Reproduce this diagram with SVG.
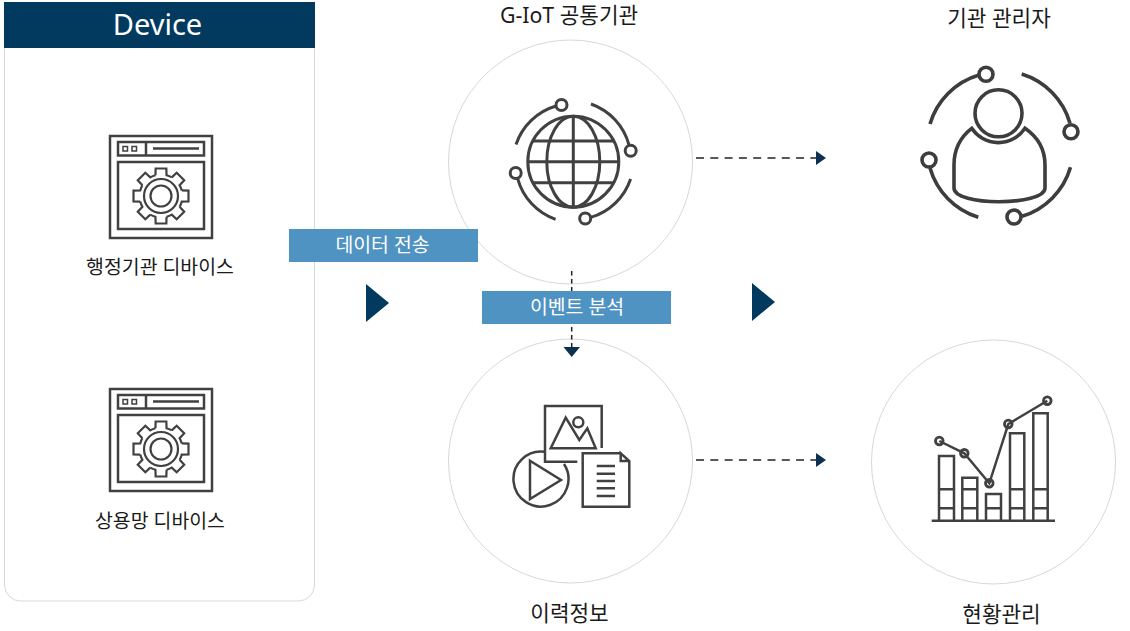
<svg xmlns="http://www.w3.org/2000/svg" xmlns:xlink="http://www.w3.org/1999/xlink" width="1130" height="631" viewBox="0 0 1130 631">
<style>
text{font-family:"Noto Sans","Noto Sans CJK KR",sans-serif;fill:#1a1a1a;text-anchor:middle}
.t{font-size:19.400px}
.l{font-size:21.300px}
.w{font-size:19.400px;fill:#fff}
.ring{fill:#fff;stroke:#d8d8d8;stroke-width:1}
.i{fill:none;stroke:#424040;stroke-width:2.500}
.g{fill:none;stroke:#424040;stroke-width:3}
.p{fill:none;stroke:#3e3c3c;stroke-width:3.600}
.d{fill:none;stroke:#222;stroke-width:1.500;stroke-dasharray:8 6.300}
.v{fill:none;stroke:#222;stroke-width:1.500;stroke-dasharray:4.500 3.500}
.h{fill:#0e3050}
.big{fill:#023a5f}
.lab{fill:#4f93c3}
</style>
<defs>
<path id="seg" d="M-5.560-20.770L-5.340-27.490H5.340L5.560-20.770A21.500 21.500 0 0 1 10.750-18.620"/>
<g id="win">
<rect x="110" y="136" width="102" height="102" class="i"/>
<rect x="118" y="142" width="86" height="13.500" class="i"/>
<path d="M146 142V155.500M153 148.500H199" class="i"/>
<path d="M123 146.500h4.500v4.500h-4.500zM132 146.500h4.500v4.500h-4.500z" class="i" style="stroke-width:1.500"/>
<rect x="118" y="162" width="86" height="67" class="i"/>
<g transform="translate(161 196)" class="i" style="stroke-width:2.200">
<use xlink:href="#seg"/><use xlink:href="#seg" transform="rotate(45)"/><use xlink:href="#seg" transform="rotate(90)"/><use xlink:href="#seg" transform="rotate(135)"/><use xlink:href="#seg" transform="rotate(180)"/><use xlink:href="#seg" transform="rotate(225)"/><use xlink:href="#seg" transform="rotate(270)"/><use xlink:href="#seg" transform="rotate(315)"/>
<circle r="17"/><circle r="10.500"/>
</g>
</g>
</defs>

<g id="device-panel">
<rect x="4.500" y="20" width="310" height="581" rx="16" fill="#fff" stroke="#d8d8d8"/>
<rect x="4" y="2" width="311" height="46" class="big"/>
<text x="157.500" y="35" style="font-size:29px;fill:#fff">Device</text>
</g>

<g id="node-gov">
<use xlink:href="#win"/>
<text x="160" y="274" class="t">행정기관 디바이스</text>
</g>
<g id="node-com">
<use xlink:href="#win" y="253"/>
<text x="160" y="528" class="t">상용망 디바이스</text>
</g>

<g id="node-giot">
<circle cx="570.500" cy="162" r="122" class="ring"/>
<text x="569" y="23" class="l">G-IoT 공통기관</text>
<g class="g">
<circle cx="573.300" cy="161.700" r="45.500"/>
<ellipse cx="573.300" cy="161.700" rx="26.500" ry="45.500"/>
<path d="M573.300 116.200V207.200M533.300 141H613.300M527.800 161.700H618.800M533.300 182.700H613.300"/>
<path d="M516 144.500A60 60 0 0 1 556 106M591 104A60 60 0 0 1 629 145M630.600 178.900A60 60 0 0 1 590.600 217.400M555.600 219.400A60 60 0 0 1 517.600 178.400"/>
<circle cx="561.500" cy="105" r="5.500"/><circle cx="630.700" cy="150.700" r="5.500"/><circle cx="515.700" cy="173" r="5.500"/><circle cx="585.200" cy="218.500" r="5.500"/>
</g>
</g>

<g id="node-admin">
<text x="999" y="26" class="l">기관 관리자</text>
<g class="p">
<circle cx="998.500" cy="113.300" r="23.500"/>
<path d="M971.700 128.300A32 32 0 0 0 1025 128.300Q1045 142 1045 165V188C1045 197 1022 201.700 999 201.700S954 197 954 188V165Q954 142 971.700 128.300Z"/>
<path d="M930 124A72.500 72.500 0 0 1 979 75M1021.700 74A72.500 72.500 0 0 1 1070 123.300M1070.500 167.300A72.500 72.500 0 0 1 1022 216.300M978.300 217.300A72.500 72.500 0 0 1 930 168"/>
<circle cx="986" cy="74.300" r="7"/><circle cx="1071" cy="131.700" r="7"/><circle cx="929" cy="160" r="7"/><circle cx="1014" cy="217" r="7"/>
</g>
</g>

<g id="node-history">
<circle cx="570.500" cy="461" r="122" class="ring"/>
<text x="569.500" y="621" class="l">이력정보</text>
<g class="i">
<path d="M577.300 461.700H545V406H601.700V448"/>
<path d="M550.700 448.300L565.700 417.700L579.300 440L587.300 428.300L595.700 448.300Z"/>
<circle cx="578.300" cy="422.300" r="5"/>
<path d="M545 451.800A27.500 27.500 0 1 0 564 464"/>
<path d="M530 460.700L561 480L530 499Z"/>
<path d="M620.700 453.300H582.700V506.700H629.300V461L620.700 453.300V461H629.300"/>
<path d="M596.700 466H615M596.700 473.700H615M596.700 481H615M596.700 488.300H615M596.700 496H615"/>
</g>
</g>

<g id="node-status">
<circle cx="993.500" cy="462" r="122" class="ring"/>
<text x="1001.500" y="622" class="l">현황관리</text>
<g class="i">
<path d="M931.700 520.700H1055"/>
<path d="M939 520.700V456H954V520.700M962.300 520.700V477.700H977.300V520.700M986 520.700V494H1001V520.700M1010 520.700V433.300H1024.300V520.700M1033.300 520.700V413.300H1047.700V520.700"/>
<path d="M939 489.300H954M939 508.300H954M962.300 489.300H977.300M962.300 508.300H977.300M986 508.300H1001M1010 489.300H1024.300M1010 508.300H1024.300M1033.300 489.300H1047.700M1033.300 508.300H1047.700"/>
<path d="M939.300 441L964.300 453.300L989.300 483.300L1008.300 424L1047.300 400.700"/>
<g style="stroke-width:2.800"><circle cx="939.300" cy="441" r="3.800"/><circle cx="964.300" cy="453.300" r="3.800"/><circle cx="989.300" cy="483.300" r="3.800"/><circle cx="1008.300" cy="424" r="3.800"/><circle cx="1047.300" cy="400.700" r="3.800"/></g>
</g>
</g>

<g id="connectors">
<path class="d" d="M696 158H817"/><path class="h" d="M816 151L826 158L816 165Z"/>
<path class="d" d="M696 460H817"/><path class="h" d="M816 453L826 460L816 467Z"/>
<path class="v" d="M571.700 271V348"/><path class="h" d="M563.500 347H580L571.700 357Z"/>
<path class="big" d="M366 284L389 303L366 322Z"/>
<path class="big" d="M752 283L775 302L752 321Z"/>
</g>

<g id="label-send"><rect x="289" y="229" width="189" height="33" class="lab"/><text x="382.500" y="251.500" class="w">데이터 전송</text></g>
<g id="label-event"><rect x="482" y="291" width="189" height="33" class="lab"/><text x="577" y="314" class="w">이벤트 분석</text></g>
</svg>
